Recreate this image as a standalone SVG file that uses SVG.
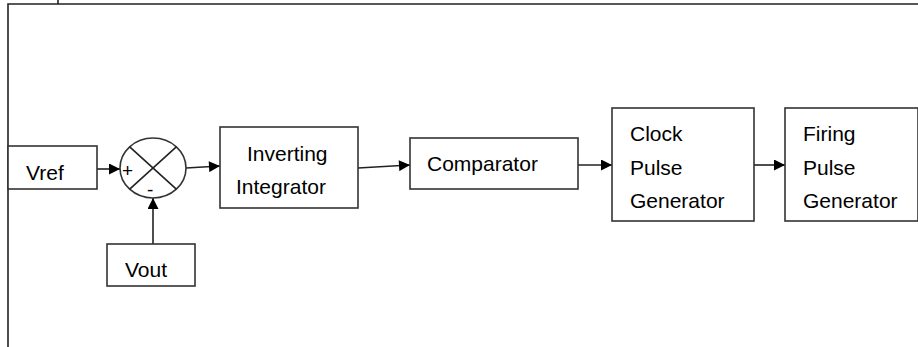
<svg xmlns="http://www.w3.org/2000/svg" width="918" height="347" viewBox="0 0 918 347">
<defs>
<style>
.box{fill:#fff;stroke:#333;stroke-width:1.6}
.ln{fill:none;stroke:#222;stroke-width:1.6}
.t{font-family:"Liberation Sans",Arial,sans-serif;font-size:21px;fill:#000}
.s{font-family:"Liberation Sans",Arial,sans-serif;font-size:19px;fill:#000}
</style>
<marker id="ah" viewBox="0 0 10 10" refX="10" refY="5" markerWidth="13" markerHeight="11" markerUnits="userSpaceOnUse" orient="auto">
<path d="M0,0 L10,5 L0,10 Z" fill="#000"/>
</marker>
</defs>
<rect width="918" height="347" fill="#fff"/>
<g id="frame">
<path class="ln" d="M8,347 L8,4 L918,4"/>
<path class="ln" d="M58,0 L58,4"/>
</g>
<g id="connectors">
<path class="ln" d="M97,169 L120,169" marker-end="url(#ah)"/>
<path class="ln" d="M153,244 L153,198" marker-end="url(#ah)"/>
<path class="ln" d="M186,168 L220,166" marker-end="url(#ah)"/>
<path class="ln" d="M358,168 L410,165" marker-end="url(#ah)"/>
<path class="ln" d="M578,165 L612,165" marker-end="url(#ah)"/>
<path class="ln" d="M754,165 L785,165" marker-end="url(#ah)"/>
</g>
<g id="vref">
<rect class="box" x="8" y="146" width="89" height="43"/>
<text class="t" x="26" y="180">Vref</text>
</g>
<g id="sum">
<ellipse class="box" cx="153" cy="168" rx="33" ry="30"/>
<path class="ln" d="M129.7,146.8 L176.3,189.2 M176.3,146.8 L129.7,189.2"/>
<text class="s" x="122" y="177">+</text>
<text class="s" x="147" y="196">-</text>
</g>
<g id="vout">
<rect class="box" x="107" y="244" width="88" height="42"/>
<text class="t" x="125" y="277">Vout</text>
</g>
<g id="integrator">
<rect class="box" x="220" y="127" width="138" height="81"/>
<text class="t" x="247" y="161">Inverting</text>
<text class="t" x="236" y="194">Integrator</text>
</g>
<g id="comparator">
<rect class="box" x="410" y="138" width="168" height="51"/>
<text class="t" x="427" y="171">Comparator</text>
</g>
<g id="clock">
<rect class="box" x="612" y="108" width="142" height="113"/>
<text class="t" x="630" y="141">Clock</text>
<text class="t" x="630" y="175">Pulse</text>
<text class="t" x="630" y="208">Generator</text>
</g>
<g id="firing">
<rect class="box" x="785" y="108" width="133" height="113"/>
<text class="t" x="803" y="141">Firing</text>
<text class="t" x="803" y="175">Pulse</text>
<text class="t" x="803" y="208">Generator</text>
</g>
</svg>
